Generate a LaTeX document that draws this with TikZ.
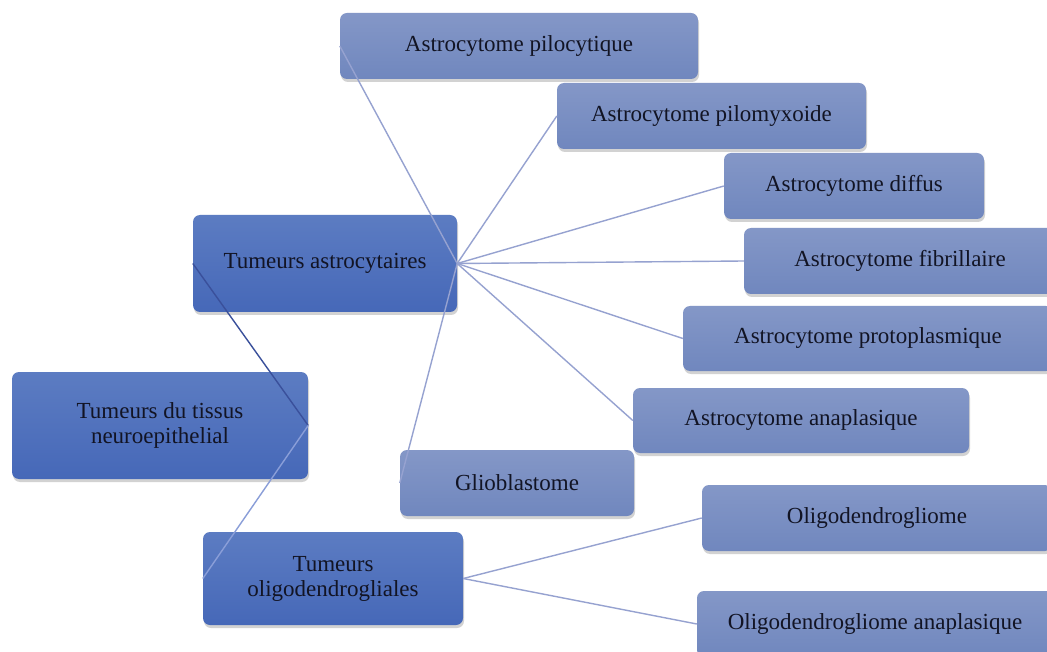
\documentclass[tikz,border=0pt]{standalone}
\usepackage{fontspec}
\setmainfont{Liberation Serif}
\usetikzlibrary{shadows}
\definecolor{lvtop}{RGB}{92,124,194}
\definecolor{lvbot}{RGB}{70,104,184}
\definecolor{lbtop}{RGB}{132,151,199}
\definecolor{lbbot}{RGB}{112,135,190}
\definecolor{linkA}{RGB}{58,80,155}
\definecolor{linkC}{RGB}{138,158,216}
\definecolor{linkB}{RGB}{150,162,208}
\definecolor{txt}{RGB}{18,20,36}
\begin{document}
\begin{tikzpicture}[x=1pt,y=-1pt,
  box/.style={rectangle, rounded corners=7pt, align=center, inner sep=0pt,
    text=txt, font=\fontsize{23}{25}\selectfont,
    drop shadow={shadow xshift=1pt, shadow yshift=-3pt, opacity=0.25, fill=black!70}},
  lvone/.style={box, top color=lvtop, bottom color=lvbot},
  lvtwo/.style={box, top color=lbtop, bottom color=lbbot},
  linkone/.style={draw=linkA, line width=1.4pt},
  linkthree/.style={draw=linkC, line width=1.4pt},
  linktwo/.style={draw=linkB, line width=1.4pt}]
\useasboundingbox (0,0) rectangle (1047,652);
\clip (0,0) rectangle (1047,652);
\fill[white] (0,0) rectangle (1047,652);

\node[lvone, minimum width=296pt, minimum height=107pt] (root) at (160,425.5) {Tumeurs du tissus\\neuroepithelial};
\node[lvone, minimum width=264pt, minimum height=97pt] (astro) at (325,263.5) {Tumeurs astrocytaires};
\node[lvone, minimum width=260pt, minimum height=93pt] (oligoP) at (333,578.5) {Tumeurs\\oligodendrogliales};

\node[lvtwo, minimum width=358pt, minimum height=66pt] (pilo) at (519,46) {Astrocytome pilocytique};
\node[lvtwo, minimum width=309pt, minimum height=66pt] (pmyx) at (711.5,116) {Astrocytome pilomyxoide};
\node[lvtwo, minimum width=260pt, minimum height=66pt] (diff) at (854,186) {Astrocytome diffus};
\node[lvtwo, minimum width=312pt, minimum height=66pt] (fibr) at (900,261) {Astrocytome fibrillaire};
\node[lvtwo, minimum width=370pt, minimum height=65pt] (prot) at (868,338.5) {Astrocytome protoplasmique};
\node[lvtwo, minimum width=336pt, minimum height=65pt] (anap) at (801,420.5) {Astrocytome anaplasique};
\node[lvtwo, minimum width=234pt, minimum height=66pt] (glio) at (517,483) {Glioblastome};
\node[lvtwo, minimum width=350pt, minimum height=66pt] (olig) at (877,518) {Oligodendrogliome};
\node[lvtwo, minimum width=356pt, minimum height=66pt] (olan) at (875,624) {Oligodendrogliome anaplasique};

\draw[linkone] (root.east) -- (astro.west);
\draw[linkthree] (root.east) -- (oligoP.west);
\foreach \c in {pilo,pmyx,diff,fibr,prot,anap,glio}
  \draw[linktwo] (astro.east) -- (\c.west);
\draw[linktwo] (oligoP.east) -- (olig.west);
\draw[linktwo] (oligoP.east) -- (olan.west);
\end{tikzpicture}
\end{document}
